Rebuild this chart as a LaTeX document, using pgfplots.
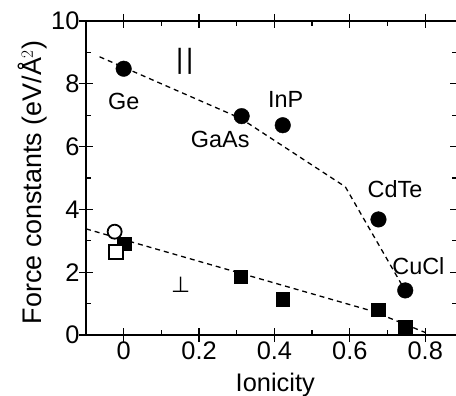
\documentclass[border=0pt]{standalone}
\usepackage{pgfplots}
\pgfplotsset{compat=1.18}
\usepackage{fontspec}
\setmainfont{Liberation Sans}
\newfontfamily\dejavu{DejaVu Sans}
\begin{document}
\begin{tikzpicture}
\begin{axis}[name=ax, at={(0bp,0bp)}, anchor=south west,
  scale only axis, width=370.5bp, height=314bp,
  xmin=-0.1, xmax=0.883, ymin=0, ymax=10,
  xtick={0,0.2,0.4,0.6,0.8}, ytick={0,2,4,6,8,10},
  minor x tick num=1, minor y tick num=1,
  tick align=inside, major tick length=7bp, minor tick length=5bp,
  extra x ticks={0,0.2,0.4,0.6,0.8}, extra x tick labels={},
  extra y ticks={0,2,4,6,8,10}, extra y tick labels={},
  extra tick style={tick align=outside, major tick length=7bp},
  axis line style={line width=1.6bp},
  every tick/.append style={line width=1.3bp, black},
  /pgf/number format/assume math mode=true,
  ticklabel style={font=\fontsize{25.5}{30}\selectfont},
  xticklabel style={yshift=-3bp},
  yticklabel style={xshift=-3bp},
  xlabel={Ionicity}, ylabel={Force constants (eV/Å$^2$)},
  label style={font=\fontsize{25.5}{30}\selectfont},
  xlabel style={at={(axis description cs:0.5,0)}, anchor=base, yshift=-56bp, xshift=4bp},
  ylabel style={at={(axis description cs:-0.1188,0.486)}, anchor=base, font=\fontsize{27}{32}\selectfont},
  clip=false,
]
\addplot[black, line width=1.3bp, dash pattern=on 5bp off 4bp] coordinates {(-0.064,8.86) (0.31,6.9) (0.588,4.72) (0.745,1.45)};
\addplot[black, line width=1.3bp, dash pattern=on 5bp off 4bp] coordinates {(-0.1,3.38) (0.66,0.76) (0.80,0.08)};
\addplot[only marks, mark=*, mark size=7.8bp, black] coordinates {(0,8.48) (0.313,6.97) (0.422,6.68) (0.676,3.68) (0.747,1.42)};
\addplot[only marks, mark=square*, mark size=6.7bp, black] coordinates {(0.001,2.91) (0.31,1.86) (0.422,1.14) (0.675,0.80) (0.747,0.25)};
\addplot[only marks, mark=square*, mark size=6.9bp, mark options={fill=white, draw=black, line width=1.8bp}] coordinates {(-0.021,2.65)};
\addplot[only marks, mark=*, mark size=7.0bp, mark options={fill=white, draw=black, line width=1.8bp}] coordinates {(-0.024,3.29)};
\node[font=\fontsize{23.5}{27}\selectfont, anchor=base, inner sep=0pt] at (axis cs:0,7.17) {Ge};
\node[font=\fontsize{23.5}{27}\selectfont, anchor=base, inner sep=0pt] at (axis cs:0.256,5.96) {GaAs};
\node[font=\fontsize{23.5}{27}\selectfont, anchor=base, inner sep=0pt] at (axis cs:0.430,7.25) {InP};
\node[font=\fontsize{23.5}{27}\selectfont, anchor=base, inner sep=0pt] at (axis cs:0.72,4.38) {CdTe};
\node[font=\fontsize{23.5}{27}\selectfont, anchor=base, inner sep=0pt] at (axis cs:0.782,1.94) {CuCl};
\node[anchor=center, inner sep=0pt, font=\fontsize{28}{28}\selectfont] at (axis cs:0.162,8.70) {\textbar\kern3bp\textbar};
\node[anchor=center, inner sep=0pt, font=\fontsize{22}{22}\selectfont\dejavu] at (axis cs:0.151,1.60) {⊥};
\end{axis}
\pgfresetboundingbox
\useasboundingbox (-86bp,-61bp) rectangle (370bp,335bp);
\end{tikzpicture}
\end{document}
